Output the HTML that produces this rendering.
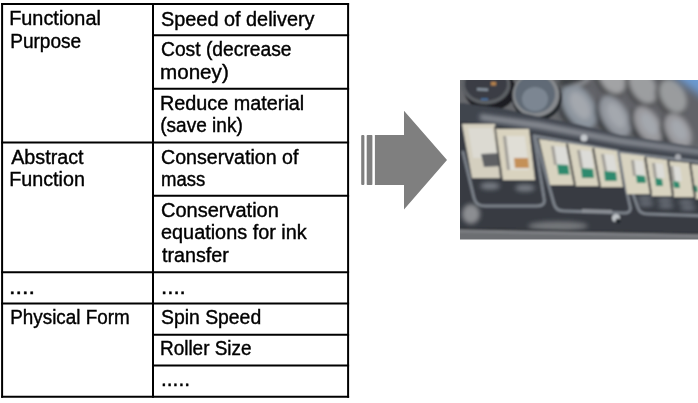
<!DOCTYPE html>
<html><head><meta charset="utf-8"><style>
html,body{margin:0;padding:0;background:#fff;}
body{width:698px;height:403px;overflow:hidden;position:relative;}
svg{position:absolute;left:0;top:0;display:block;will-change:transform;}
text{-webkit-font-smoothing:antialiased;font-family:"Liberation Sans",sans-serif;font-size:20px;fill:#000;stroke:#000;stroke-width:0.4px;white-space:pre;}
</style></head><body>
<svg width="698" height="403" viewBox="0 0 698 403">
<g stroke="#000" stroke-width="2" fill="none">
<line x1="1.1" y1="4.0" x2="349.1" y2="4.0"/>
<line x1="1.1" y1="142.5" x2="349.1" y2="142.5"/>
<line x1="1.1" y1="272.3" x2="349.1" y2="272.3"/>
<line x1="1.1" y1="303.4" x2="349.1" y2="303.4"/>
<line x1="1.1" y1="396.7" x2="349.1" y2="396.7"/>
<line x1="153" y1="35.2" x2="349.1" y2="35.2"/>
<line x1="153" y1="88.8" x2="349.1" y2="88.8"/>
<line x1="153" y1="195.8" x2="349.1" y2="195.8"/>
<line x1="153" y1="334.7" x2="349.1" y2="334.7"/>
<line x1="153" y1="365.6" x2="349.1" y2="365.6"/>
<line x1="2.1" y1="3" x2="2.1" y2="397.7"/>
<line x1="153.0" y1="3" x2="153.0" y2="397.7"/>
<line x1="348.1" y1="3" x2="348.1" y2="397.7"/>
</g>
<text x="9.20" y="25.30" textLength="91.67" lengthAdjust="spacingAndGlyphs">Functional</text>
<text x="10.20" y="47.90" textLength="71.00" lengthAdjust="spacingAndGlyphs">Purpose</text>
<text x="11.20" y="163.60" textLength="72.37" lengthAdjust="spacingAndGlyphs">Abstract</text>
<text x="9.20" y="186.00" textLength="75.69" lengthAdjust="spacingAndGlyphs">Function</text>
<text x="9.10" y="293.50" textLength="26.00" lengthAdjust="spacingAndGlyphs">....</text>
<text x="10.20" y="324.30" textLength="119.56" lengthAdjust="spacingAndGlyphs">Physical Form</text>
<text x="161.00" y="25.50" textLength="153.55" lengthAdjust="spacingAndGlyphs">Speed of delivery</text>
<text x="161.00" y="56.20" textLength="130.57" lengthAdjust="spacingAndGlyphs">Cost (decrease</text>
<text x="160.00" y="78.60" textLength="68.77" lengthAdjust="spacingAndGlyphs">money)</text>
<text x="160.00" y="109.80" textLength="144.20" lengthAdjust="spacingAndGlyphs">Reduce material</text>
<text x="160.20" y="132.20" textLength="82.59" lengthAdjust="spacingAndGlyphs">(save ink)</text>
<text x="161.00" y="163.80" textLength="137.47" lengthAdjust="spacingAndGlyphs">Conservation of</text>
<text x="161.00" y="186.10" textLength="44.30" lengthAdjust="spacingAndGlyphs">mass</text>
<text x="161.00" y="216.80" textLength="117.84" lengthAdjust="spacingAndGlyphs">Conservation</text>
<text x="161.00" y="239.30" textLength="145.76" lengthAdjust="spacingAndGlyphs">equations for ink</text>
<text x="162.00" y="261.70" textLength="66.82" lengthAdjust="spacingAndGlyphs">transfer</text>
<text x="161.00" y="293.60" textLength="24.82" lengthAdjust="spacingAndGlyphs">....</text>
<text x="161.00" y="324.40" textLength="100.16" lengthAdjust="spacingAndGlyphs">Spin Speed</text>
<text x="160.00" y="355.30" textLength="91.56" lengthAdjust="spacingAndGlyphs">Roller Size</text>
<text x="161.00" y="386.40" textLength="28.99" lengthAdjust="spacingAndGlyphs">.....</text>
<g fill="#7f7f7f">
<rect x="361.2" y="135" width="3.2" height="50" rx="1"/>
<rect x="366.7" y="135" width="5.7" height="50" rx="0.8"/>
<path d="M374.9 135 H404 V110.7 L447 160 L404 209.5 V185 H374.9 Z"/>
</g>
<defs>
<clipPath id="pc"><rect x="460" y="80" width="238" height="159.5"/></clipPath>
<filter id="bl" x="-10%" y="-10%" width="120%" height="120%"><feGaussianBlur stdDeviation="0.9"/></filter>
<filter id="bl2" x="-50%" y="-50%" width="200%" height="200%"><feGaussianBlur stdDeviation="2"/></filter>
<filter id="bl3" x="-50%" y="-50%" width="200%" height="200%"><feGaussianBlur stdDeviation="4"/></filter>
</defs>
<g clip-path="url(#pc)"><g filter="url(#bl)">
<rect x="450" y="70" width="260" height="180" fill="#373b42"/>
<polygon points="450,70 710,70 710,149 660,141 620,135 580,125 540,117 500,108 460,103 450,103" fill="#66686c"/>
<g filter="url(#bl3)">
<polygon points="560,70 710,70 710,147 620,134 560,121" fill="#626468"/>
</g>
<g filter="url(#bl2)">
<ellipse cx="610" cy="79.5" rx="14" ry="20" fill="#48494c" transform="rotate(-30 610 79.5)"/>
<ellipse cx="612" cy="77" rx="12" ry="18" fill="#a2a3a5" transform="rotate(-30 612 77)"/>
<ellipse cx="641" cy="88.5" rx="14" ry="21" fill="#48494c" transform="rotate(-30 641 88.5)"/>
<ellipse cx="643" cy="86" rx="12" ry="19" fill="#9c9ea0" transform="rotate(-30 643 86)"/>
<ellipse cx="671" cy="98.5" rx="14" ry="20" fill="#48494c" transform="rotate(-30 671 98.5)"/>
<ellipse cx="673" cy="96" rx="12" ry="18" fill="#9a9c9e" transform="rotate(-30 673 96)"/>
<ellipse cx="576" cy="74.5" rx="14" ry="16" fill="#48494c" transform="rotate(-30 576 74.5)"/>
<ellipse cx="578" cy="72" rx="12" ry="14" fill="#96989c" transform="rotate(-30 578 72)"/>
<ellipse cx="577" cy="109.0" rx="17" ry="27" fill="#2e3034" transform="rotate(-30 577 109.0)"/>
<ellipse cx="579" cy="106.5" rx="15" ry="25" fill="#8c949e" transform="rotate(-30 579 106.5)"/>
<ellipse cx="580" cy="105.5" rx="8.25" ry="15.0" fill="#a4a8ae" transform="rotate(-30 580 105.5)"/>
<ellipse cx="613" cy="119.0" rx="15" ry="25" fill="#2e3034" transform="rotate(-30 613 119.0)"/>
<ellipse cx="615" cy="116.5" rx="13" ry="23" fill="#92969e" transform="rotate(-30 615 116.5)"/>
<ellipse cx="616" cy="115.5" rx="7.15" ry="13.799999999999999" fill="#a4a8ae" transform="rotate(-30 616 115.5)"/>
<ellipse cx="646" cy="127.5" rx="14" ry="22.5" fill="#2e3034" transform="rotate(-30 646 127.5)"/>
<ellipse cx="648" cy="125" rx="12" ry="20.5" fill="#9a9a9e" transform="rotate(-30 648 125)"/>
<ellipse cx="649" cy="124" rx="6.6000000000000005" ry="12.299999999999999" fill="#a4a8ae" transform="rotate(-30 649 124)"/>
<ellipse cx="676" cy="133.5" rx="14" ry="21" fill="#2e3034" transform="rotate(-30 676 133.5)"/>
<ellipse cx="678" cy="131" rx="12" ry="19" fill="#9a9a9e" transform="rotate(-30 678 131)"/>
<ellipse cx="679" cy="130" rx="6.6000000000000005" ry="11.4" fill="#a4a8ae" transform="rotate(-30 679 130)"/>
</g>
<g filter="url(#bl2)"><ellipse cx="572" cy="80" rx="14" ry="4" fill="#3a3c40" transform="rotate(-15 572 80)"/></g>
<g filter="url(#bl3)"><polygon points="668,70 710,70 710,102 696,92 684,84" fill="#6c9ad2"/></g>
<ellipse cx="490" cy="90" rx="26" ry="21" fill="#1c1e22"/>
<ellipse cx="486" cy="85" rx="24.5" ry="19.5" fill="#5c5f64"/>
<ellipse cx="486" cy="84" rx="21" ry="16.5" fill="#3a3e45"/>
<polygon points="477,88 488,88.5 488,91 477,90.5" fill="#8a94a0"/>
<polygon points="491,82 496,82 496,85.5 491,85.5" fill="#b8844c"/>
<polygon points="481,98.5 488,98.5 488,100 481,100" fill="#4a78b0"/>
<ellipse cx="537" cy="98" rx="25" ry="23" fill="#24272b"/>
<ellipse cx="536" cy="95" rx="23.5" ry="22" fill="#86898d"/>
<ellipse cx="535" cy="94" rx="20" ry="19" fill="#606a76"/>
<ellipse cx="535" cy="99" rx="13" ry="12" fill="#7c8692"/>
<polygon points="450,103 460,103 500,108 540,117 580,125 620,135 660,141 710,149 710,163 660,155 620,149 580,141 540,134 500,126 460,121 450,121" fill="#40454e"/>
<g filter="url(#bl2)"><polygon points="480,114 540,122 620,138 710,151 710,156 620,144 540,129 480,120" fill="#8a8e95"/></g>
<g fill="none" stroke="#7a8088" stroke-width="3" stroke-linecap="round">
<path d="M463,152 L474,198 Q476,206 485,206 L537,206 Q546,206 544,198 L534,136"/>
<path d="M618,151 L535,136 L554,204 Q556,211 564,211 L624,213 Q632,213 630,206 L618,151"/>
<path d="M710,163 L618,152 L638,208 Q640,214 648,214 L710,216"/>
</g>
<g filter="url(#bl2)">
<ellipse cx="471" cy="214" rx="9" ry="10" fill="#8c8e92"/>
<ellipse cx="558" cy="226" rx="30" ry="4.5" fill="#76787c"/>
<ellipse cx="490" cy="186" rx="10" ry="3.5" fill="#7a7f86"/>
<ellipse cx="525" cy="188" rx="10" ry="3.5" fill="#7a7f86"/>
<ellipse cx="645" cy="198" rx="8" ry="2" fill="#747a84"/>
<ellipse cx="646" cy="204" rx="8" ry="2" fill="#747a84"/>
<ellipse cx="665" cy="200" rx="8" ry="2" fill="#747a84"/>
<ellipse cx="666" cy="206" rx="8" ry="2" fill="#747a84"/>
<ellipse cx="686" cy="202" rx="8" ry="2" fill="#747a84"/>
<ellipse cx="688" cy="208" rx="8" ry="2" fill="#747a84"/>
</g>
<polygon points="582,209 612,210 612,213 582,213" fill="#8a8e94"/>
<polygon points="450,227.5 710,233 710,245 450,245" fill="#26292e"/>
<polygon points="450,228.8 710,234.3 710,245 450,245" fill="#6c6e72"/>
<polygon points="450,230 710,235.5 710,237.5 450,232" fill="#808286"/>
<polygon points="462,124 495,124 504,178 472,178" fill="#d4cfbf"/><polygon points="468,128 492,128 498,158 473,158" fill="#dcdad2"/><polygon points="481,154 501,153 503,166 484,167" fill="#5e6064"/>
<polygon points="494,126 497,126 503,178 500,178" fill="#505050"/>
<polygon points="496,129 529,129 535,180 503,180" fill="#d9d3bf"/><polygon points="506,136 525,136 529,170 510,170" fill="#e0ded6"/><polygon points="503,136 506,136 510,170 507,170" fill="#a09e98"/><polygon points="514,158 528,158 529,168 515,168" fill="#c49058"/>
<polygon points="539,139 566,143 576,185 550,185" fill="#d8d3c0"/><polygon points="554,146 566,147 569,165 557,165" fill="#dcdcd8"/><polygon points="551,146 554,146 557,165 554,165" fill="#a09e98"/><polygon points="557,164.5 568,165 569.5,174.5 558.5,174.5" fill="#2e8a6e"/>
<polygon points="567,143 593,147 601,186 575,186" fill="#d8d3c0"/><polygon points="580,150 591,151 594,168 583,168" fill="#dcdcd8"/><polygon points="577,150 580,150 583,168 580,168" fill="#a09e98"/><polygon points="581,168 593,169 594,178 582,178" fill="#2e8a6e"/>
<polygon points="592,147 617,151 623,187 599,187" fill="#d8d3c0"/><polygon points="604,154 614,155 617,171 607,171" fill="#dcdcd8"/><polygon points="601,154 604,154 607,171 604,171" fill="#a09e98"/><polygon points="604,171 616,172 617,181 605,181" fill="#2e8a6e"/>
<polygon points="620,153 645,156 651,194 627,194" fill="#d8d3c0"/><polygon points="634,160 643,161 645,176 636,176" fill="#dcdcd8"/><polygon points="631,160 634,160 636,176 633,176" fill="#a09e98"/><polygon points="636,175 645,176 646,183 637,183" fill="#2e8a6e"/>
<polygon points="646,157 668,160 674,196 652,196" fill="#d8d3c0"/><polygon points="655,163 663,164 665,178 657,178" fill="#dcdcd8"/><polygon points="652,163 655,163 657,178 654,178" fill="#a09e98"/><polygon points="655,178 662,179 663,186 656,186" fill="#2e8a6e"/>
<polygon points="669,161 690,163 695,197 674,197" fill="#d8d3c0"/><polygon points="673,166 680,167 682,181 675,181" fill="#dcdcd8"/><polygon points="670,166 673,166 675,181 672,181" fill="#a09e98"/><polygon points="673,181 679,182 680,188 674,188" fill="#2e8a6e"/>
<polygon points="691,164 710,166 710,199 696,199" fill="#d8d3c0"/><polygon points="692,185 697,186 698,192 693,192" fill="#2e8a6e"/>
<g stroke="#4a4a48" stroke-width="2.2">
<line x1="567" y1="144" x2="575" y2="186"/>
<line x1="593" y1="148" x2="600" y2="187"/>
<line x1="645" y1="157" x2="651" y2="194"/>
<line x1="668" y1="160" x2="673" y2="196"/>
<line x1="690" y1="163" x2="695" y2="197"/>
</g>
<circle cx="584" cy="138" r="3.5" fill="#c4c8cc"/>
<circle cx="616" cy="218" r="4" fill="#c0c4c8"/>
<circle cx="618" cy="221" r="2.5" fill="#23262a"/>
<circle cx="678" cy="157" r="3" fill="#a6a8ae"/>
</g></g>
</svg>
</body></html>
